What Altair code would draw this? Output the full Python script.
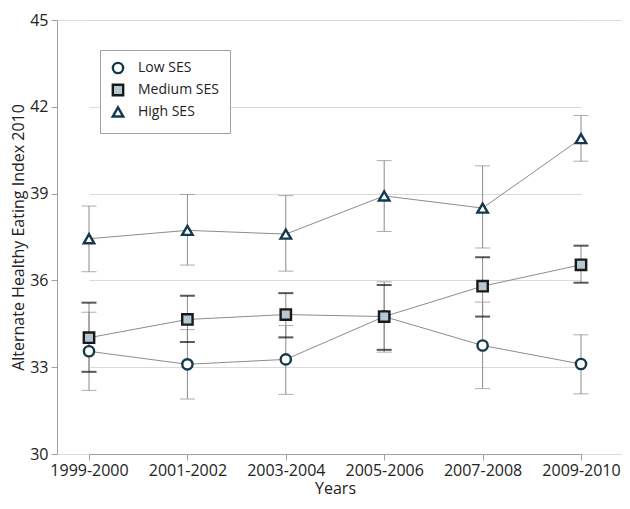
import altair as alt
import pandas as pd

years = ["1999-2000", "2001-2002", "2003-2004", "2005-2006", "2007-2008", "2009-2010"]
series_names = ["Low SES", "Medium SES", "High SES"]

low = [33.55, 33.10, 33.27, 34.75, 33.75, 33.11]
low_lo = [32.20, 31.90, 32.06, 33.52, 32.26, 32.08]
low_hi = [34.90, 34.30, 34.44, 35.95, 35.25, 34.12]

med = [34.02, 34.65, 34.82, 34.75, 35.80, 36.54]
med_lo = [32.84, 33.87, 34.03, 33.60, 34.75, 35.92]
med_hi = [35.23, 35.47, 35.56, 35.84, 36.80, 37.20]

high = [37.44, 37.73, 37.60, 38.92, 38.50, 40.90]
high_lo = [36.30, 36.53, 36.32, 37.69, 37.12, 40.12]
high_hi = [38.57, 38.97, 38.93, 40.14, 39.96, 41.70]

rows = []
for name, v, lo, hi in [("Low SES", low, low_lo, low_hi),
                        ("Medium SES", med, med_lo, med_hi),
                        ("High SES", high, high_lo, high_hi)]:
    for i, y in enumerate(years):
        rows.append({"year": y, "series": name, "value": v[i], "lo": lo[i], "hi": hi[i]})
df = pd.DataFrame(rows)

FONT = "Open Sans"

x_enc = alt.X("year:N", sort=years,
              scale=alt.Scale(type="point", range=[32, 524], padding=0),
              axis=alt.Axis(title="Years", labelAngle=0, grid=False, domainColor="#a0a0a0",
                            tickColor="#a0a0a0", tickSize=6, labelFontSize=16, labelPadding=2,
                            labelColor="#222", titleFontSize=16, titleFontWeight="normal",
                            titleColor="#222", titlePadding=2, labelFont=FONT, titleFont=FONT))
y_scale = alt.Scale(domain=[30, 45], nice=False, zero=False)
y_axis = alt.Axis(title="Alternate Healthy Eating Index 2010", values=[30, 33, 36, 39, 42, 45],
                  grid=True, gridColor="#dadada", domainColor="#a0a0a0", tickColor="#a0a0a0",
                  tickSize=6, labelFontSize=16, labelColor="#222", labelPadding=3,
                  titleFontSize=16, titleFontWeight="normal", titleColor="#222", titlePadding=3,
                  labelFont=FONT, titleFont=FONT)

base = alt.Chart(df)

rules = base.mark_rule(color="#8a8a8a", strokeWidth=1).encode(
    x=x_enc, y=alt.Y("lo:Q", scale=y_scale, axis=y_axis), y2="hi:Q")

caps_gray_lo = base.transform_filter(alt.datum.series != "Medium SES").mark_tick(
    color="#8a8a8a", size=15, thickness=1).encode(x=x_enc, y=alt.Y("lo:Q", scale=y_scale))
caps_gray_hi = base.transform_filter(alt.datum.series != "Medium SES").mark_tick(
    color="#8a8a8a", size=15, thickness=1).encode(x=x_enc, y=alt.Y("hi:Q", scale=y_scale))
caps_blk_lo = base.transform_filter(alt.datum.series == "Medium SES").mark_tick(
    color="#111", size=15, thickness=2).encode(x=x_enc, y=alt.Y("lo:Q", scale=y_scale))
caps_blk_hi = base.transform_filter(alt.datum.series == "Medium SES").mark_tick(
    color="#111", size=15, thickness=2).encode(x=x_enc, y=alt.Y("hi:Q", scale=y_scale))

lines = base.mark_line(color="#8c8c8c", strokeWidth=1).encode(
    x=x_enc, y=alt.Y("value:Q", scale=y_scale), detail="series:N")

legend = alt.Legend(title=None, orient="none", legendX=43, legendY=30,
                    strokeColor="#a0a0a0", fillColor="white", padding=11,
                    labelFontSize=14, labelFont=FONT, labelColor="#222",
                    rowPadding=2, labelOffset=13, symbolStrokeWidth=2.4, cornerRadius=0)

points = base.mark_point(filled=False, strokeWidth=2.4, opacity=1).encode(
    x=x_enc, y=alt.Y("value:Q", scale=y_scale),
    shape=alt.Shape("series:N", sort=series_names,
                    scale=alt.Scale(domain=series_names, range=["circle", "square", "triangle-up"]),
                    legend=legend),
    fill=alt.Fill("series:N", sort=series_names,
                  scale=alt.Scale(domain=series_names, range=["#ffffff", "#b5c8d2", "#ffffff"]),
                  legend=legend),
    stroke=alt.Stroke("series:N", sort=series_names,
                      scale=alt.Scale(domain=series_names, range=["#14384c", "#1a1a1a", "#14384c"]),
                      legend=legend),
    size=alt.Size("series:N", sort=series_names,
                  scale=alt.Scale(domain=series_names, range=[105, 110, 150]),
                  legend=legend),
)

chart = alt.layer(rules, caps_gray_lo, caps_gray_hi, caps_blk_lo, caps_blk_hi, lines, points).properties(
    width=565, height=434,
    autosize=alt.AutoSizeParams(type="none"),
    padding={"left": 49, "top": 12, "right": 0, "bottom": 47},
).configure_view(stroke=None).configure(font=FONT)

chart.save("out.html", embed_options={"renderer": "svg", "actions": False})
